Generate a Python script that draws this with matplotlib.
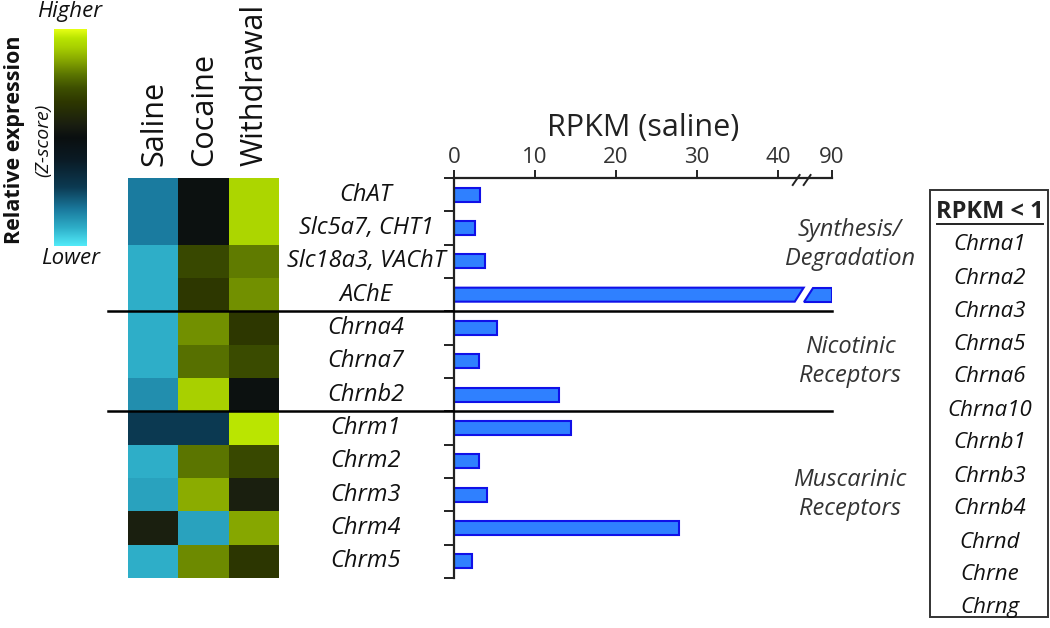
# cholinergic genes: z-score heatmap + RPKM bars (broken axis)

import numpy as np
import matplotlib
matplotlib.use("Agg")
import matplotlib.pyplot as plt
from matplotlib.colors import LinearSegmentedColormap
from matplotlib.patches import Polygon, Rectangle
from matplotlib.lines import Line2D
from matplotlib.transforms import blended_transform_factory

plt.rcParams['font.family'] = ['Open Sans', 'DejaVu Sans']

genes = ["ChAT", "Slc5a7, CHT1", "Slc18a3, VAChT", "AChE",
         "Chrna4", "Chrna7", "Chrnb2",
         "Chrm1", "Chrm2", "Chrm3", "Chrm4", "Chrm5"]
conditions = ["Saline", "Cocaine", "Withdrawal"]

# relative expression (z-score), rows = genes, cols = conditions
z_saline = [-0.8, -0.8, -1.0, -1.0, -1.0, -1.0, -0.88, -0.55, -1.0, -0.95, 0.15, -1.0]
z_cocaine = [0.02, 0.02, 0.5, 0.4, 0.78, 0.68, 1.0, -0.55, 0.70, 0.88, -0.95, 0.76]
z_withdrawal = [1.03, 1.03, 0.72, 0.78, 0.4, 0.52, 0.02, 1.1, 0.5, 0.15, 0.86, 0.38]

rpkm_saline = [3.2, 2.6, 3.8, 90, 5.3, 3.1, 13.0, 14.4, 3.1, 4.1, 27.8, 2.2]

group_names = ["Synthesis/\nDegradation", "Nicotinic\nReceptors", "Muscarinic\nReceptors"]
group_rows = [(0, 3), (4, 6), (7, 11)]

low_genes = ["Chrna1", "Chrna2", "Chrna3", "Chrna5", "Chrna6", "Chrna10",
             "Chrnb1", "Chrnb3", "Chrnb4", "Chrnd", "Chrne", "Chrng"]

x_ticks = [0, 10, 20, 30, 40, 90]

W, H = 1050, 628
fig = plt.figure(figsize=(10.5, 6.28), dpi=100)


def px(x0, y0, x1, y1):
    # pixel box (top-left origin) -> figure fraction rect
    return [x0 / W, 1 - y1 / H, (x1 - x0) / W, (y1 - y0) / H]


cmap = LinearSegmentedColormap.from_list("zs", [
    (0.0, "#52eaf8"), (0.083, "#2eaec8"), (0.167, "#1a7a9e"), (0.27, "#0c3a52"),
    (0.4, "#0a1a24"), (0.5, "#0a0f10"), (0.56, "#1a1e10"), (0.667, "#2e3800"),
    (0.73, "#3e5000"), (0.79, "#5a7400"), (0.854, "#84a400"), (0.917, "#a8d000"),
    (0.958, "#b8e400"), (1.0, "#e5ff14")])
vmin, vmax = -1.2, 1.2

# heatmap
ax_h = fig.add_axes(px(128, 178, 279, 578))
zmat = np.array([z_saline, z_cocaine, z_withdrawal]).T
ax_h.imshow(zmat, cmap=cmap, vmin=vmin, vmax=vmax, aspect="auto",
            extent=(-0.5, 2.5, len(genes) - 0.5, -0.5))
ax_h.set_xlim(-0.5, 2.5)
ax_h.set_ylim(len(genes) - 0.5, -0.5)
ax_h.axis("off")
for i, c in enumerate(conditions):
    ax_h.text(i + 0.02, -0.85, c, rotation=90, ha="center", va="bottom", fontsize=22,
              color="#111111")

# colour scale
ax_c = fig.add_axes(px(54, 29, 87, 246))
grad = np.linspace(vmax, vmin, 256).reshape(-1, 1)
ax_c.imshow(grad, cmap=cmap, vmin=vmin, vmax=vmax, aspect="auto")
ax_c.axis("off")
fig.text(70 / W, 1 - 12 / H, "Higher", style="italic", fontsize=16, ha="center",
         va="center", color="#111111")
fig.text(70 / W, 1 - 258 / H, "Lower", style="italic", fontsize=16, ha="center",
         va="center", color="#111111")
fig.text(15 / W, 1 - 140 / H, "Relative expression", rotation=90, fontsize=15.5,
         fontweight="bold", ha="center", va="center", color="#111111")
fig.text(43 / W, 1 - 140 / H, "(Z-score)", rotation=90, fontsize=14,
         style="italic", ha="center", va="center", color="#111111")

# bars with broken axis
ax_b = fig.add_axes(px(454, 178, 832, 578))
brk_lo, brk_pos, top_val, top_pos = 42.0, 43.2, 90, 46.7


def xpos(v):
    return v if v <= brk_lo else top_pos - (top_val - v) * 0.05


bh = 0.42
fill, edge = "#2f80ff", "#1010e8"
for i, v in enumerate(rpkm_saline):
    if v <= brk_lo:
        ax_b.barh(i, v, height=bh, color=fill, edgecolor=edge, linewidth=1.5)
    else:
        t, b = i - bh / 2, i + bh / 2
        ax_b.add_patch(Polygon([(0, t), (brk_pos, t), (brk_pos - 1.1, b), (0, b)],
                               closed=True, facecolor=fill, edgecolor=edge, linewidth=1.5))
        ax_b.add_patch(Polygon([(brk_pos + 1.2, t), (xpos(v), t), (xpos(v), b), (brk_pos, b)],
                               closed=True, facecolor=fill, edgecolor=edge, linewidth=1.5))

ax_b.set_xlim(0, top_pos)
ax_b.set_ylim(len(genes) - 0.5, -0.5)
for s in ["right", "bottom"]:
    ax_b.spines[s].set_visible(False)
for s in ["left", "top"]:
    ax_b.spines[s].set_linewidth(1.6)
    ax_b.spines[s].set_color("#222222")
ax_b.xaxis.tick_top()
ax_b.set_xticks([xpos(t) for t in x_ticks])
ax_b.set_xticklabels([str(t) for t in x_ticks], fontsize=16, color="#333333")
ax_b.tick_params(axis="x", direction="out", length=6, width=1.4, pad=1, color="#222222")
ax_b.set_yticks(np.arange(-0.5, len(genes), 1))
ax_b.set_yticklabels([])
ax_b.tick_params(axis="y", direction="out", length=7, width=1.4, color="#222222")
ax_b.set_xlabel("RPKM (saline)", fontsize=22, color="#222222", labelpad=8)
ax_b.xaxis.set_label_position("top")

# break marks on the axis
for x0 in [41.85, 43.2]:
    ax_b.plot([x0, x0 + 0.85], [-0.5 + 0.21, -0.5 - 0.09], color="#222222",
              lw=1.4, clip_on=False)

# gene labels
tr = blended_transform_factory(fig.transFigure, ax_b.transData)
for i, g in enumerate(genes):
    fig.text(366 / W, i, g, transform=tr, style="italic", fontsize=17,
             ha="center", va="center", color="#111111")

# group separators and labels
for a, b in group_rows[:-1]:
    fig.add_artist(Line2D([108 / W, 832 / W], [b + 0.5, b + 0.5], transform=tr,
                          color="black", lw=1.8))
for name, (a, b) in zip(group_names, group_rows):
    fig.text(850 / W, (a + b) / 2, name, transform=tr, style="italic", fontsize=17,
             ha="center", va="center", color="#333333", linespacing=1.25)

# RPKM < 1 box
fig.add_artist(Rectangle((930 / W, 1 - 617 / H), 118 / W, 427 / H,
                         transform=fig.transFigure, fill=False,
                         edgecolor="#333333", lw=1.4))
fig.text(990 / W, 1 - 212 / H, "RPKM < 1", fontsize=17, fontweight="bold",
         ha="center", va="center", color="#222222")
fig.add_artist(Line2D([937 / W, 1043 / W], [1 - 224 / H, 1 - 224 / H],
                      transform=fig.transFigure, color="#222222", lw=1.4))
for k, g in enumerate(low_genes):
    fig.text(990 / W, 1 - (245 + 33 * k) / H, g, style="italic", fontsize=16,
             ha="center", va="center", color="#111111")

fig.savefig("out.png", dpi=100)
